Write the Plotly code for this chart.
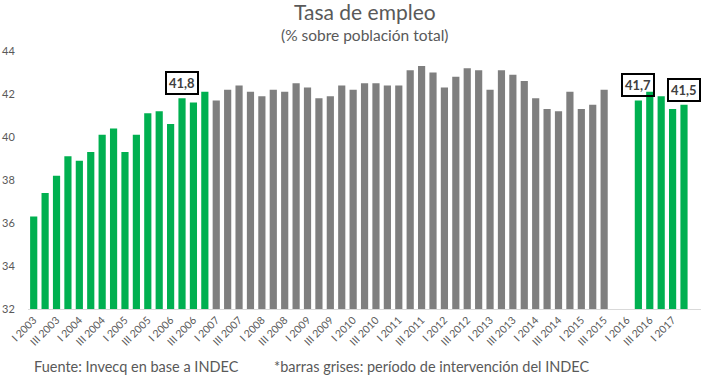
import plotly.graph_objects as go

quarters = [f"{q} {y}" for y in range(2003, 2018) for q in ["I", "II", "III", "IV"]][:58]

values = [
    36.3, 37.4, 38.2, 39.1, 38.9, 39.3, 40.1, 40.4,
    39.3, 40.1, 41.1, 41.2, 40.6, 41.8, 41.6, 42.1,
    41.7, 42.2, 42.4, 42.1, 41.9, 42.2, 42.1, 42.5,
    42.3, 41.8, 41.9, 42.4, 42.2, 42.5, 42.5, 42.4,
    42.4, 43.1, 43.3, 43.0, 42.3, 42.8, 43.2, 43.1,
    42.2, 43.1, 42.9, 42.6, 41.8, 41.3, 41.2, 42.1,
    41.3, 41.5, 42.2, None, None, 41.7, 42.1, 41.9,
    41.3, 41.5,
]

# INDEC intervention period: I 2007 - IV 2015
intervened = [q for q in quarters if 2007 <= int(q.split()[1]) <= 2015]

labelled = {"II 2006": "41,8", "II 2016": "41,7", "II 2017": "41,5"}

tick_labels = quarters[::2]

GREEN = "#00B050"
GRAY = "#7F7F7F"
FONT = "Lato, sans-serif"
TXT = "#595959"
colors = [GRAY if q in intervened else GREEN for q in quarters]

fig = go.Figure(go.Bar(
    x=quarters, y=values, marker_color=colors, marker_line_width=0,
    hoverinfo="x+y",
))

for q, txt in labelled.items():
    v = values[quarters.index(q)]
    fig.add_annotation(
        x=q, y=v, xref="x", yref="y", text=f"<b>{txt}</b>", showarrow=False,
        yanchor="bottom", yshift=3,
        font=dict(family=FONT, size=13, color="#404040"),
        bgcolor="rgba(255,255,255,0)", bordercolor="black", borderwidth=2, borderpad=2,
    )

fig.add_annotation(
    x=0.5, y=1, xref="paper", yref="paper", xanchor="center", yanchor="middle",
    yshift=39.5, text="Tasa de empleo", showarrow=False,
    font=dict(family=FONT, size=21, color=TXT),
)
fig.add_annotation(
    x=0.5, y=1, xref="paper", yref="paper", xanchor="center", yanchor="middle",
    yshift=16, text="(% sobre población total)", showarrow=False,
    font=dict(family=FONT, size=15.5, color=TXT),
)
fig.add_annotation(
    x=0.006, y=0, xref="paper", yref="paper", xanchor="left", yanchor="middle",
    yshift=-57, text="Fuente: Invecq en base a INDEC", showarrow=False,
    font=dict(family=FONT, size=14.5, color=TXT),
)
fig.add_annotation(
    x=0.363, y=0, xref="paper", yref="paper", xanchor="left", yanchor="middle",
    yshift=-57, text="*barras grises: período de intervención del INDEC", showarrow=False,
    font=dict(family=FONT, size=14.5, color=TXT),
)

fig.update_layout(
    width=718, height=376,
    margin=dict(l=28, r=17, t=51, b=67),
    paper_bgcolor="white", plot_bgcolor="white",
    bargap=0.37, showlegend=False,
    font=dict(family=FONT, color=TXT),
)
fig.update_xaxes(
    type="category", categoryorder="array", categoryarray=quarters,
    tickmode="array", tickvals=tick_labels, ticktext=tick_labels,
    tickangle=-45, tickfont=dict(size=10.5, color=TXT),
    showline=True, linecolor="#D9D9D9", linewidth=1, showgrid=False,
    ticks="", zeroline=False, automargin=False,
)
fig.update_yaxes(
    range=[32, 44], dtick=2, tick0=32, showgrid=False, zeroline=False,
    showline=False, ticks="outside", ticklen=10, tickcolor="rgba(0,0,0,0)",
    tickfont=dict(size=11, color=TXT), automargin=False,
)

fig.write_html(
    "out.html",
    config={"displayModeBar": False},
    post_script="document.body.style.margin='0px';document.body.style.overflow='hidden';",
)
